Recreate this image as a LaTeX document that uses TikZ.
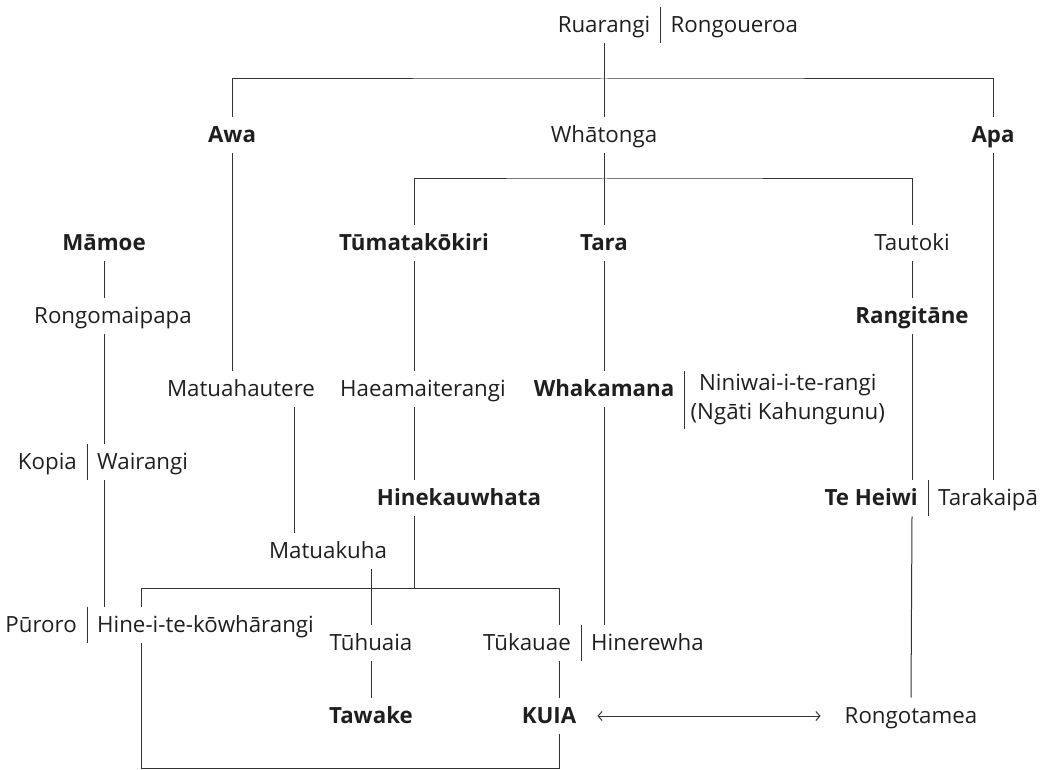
\documentclass[tikz,border=0pt]{standalone}
\usepackage{fontspec}
\setmainfont{Open Sans}
\usepackage{tikz}
\usetikzlibrary{positioning,arrows.meta}

\tikzset{
  name text/.style={font=\fontsize{22.3}{29}\selectfont, text=black!88},
  person/.style={name text, inner xsep=10pt, inner ysep=7.5pt, text height=18pt, text depth=3.5pt},
  chief/.style={person, font=\fontsize{22.3}{29}\selectfont\bfseries},
  link/.style={draw=black!80, line width=1pt},
}

\begin{document}
\begin{tikzpicture}[x=1pt, y=-1pt]
  \useasboundingbox (0,0) rectangle (1046,770);

  % top couple and children
  \node[person] (ruarangi) at (604,25) {Ruarangi};
  \node[person, right=0pt of ruarangi] (rongoueroa) {Rongoueroa};
  \node[chief] (awa) at (232,135) {Awa};
  \node[person] (whatonga) at (604,135) {Whātonga};
  \node[chief] (apa) at (993,135) {Apa};

  % children of Whatonga
  \node[chief] (tumata) at (414,243) {Tūmatakōkiri};
  \node[chief] (tara) at (604,243) {Tara};
  \node[person] (tautoki) at (912,243) {Tautoki};
  \node[chief] (rangitane) at (912,316) {Rangitāne};

  % left line
  \node[chief] (mamoe) at (104,243) {Māmoe};
  \node[person] (rongomai) at (113,316) {Rongomaipapa};
  \node[person, anchor=east] (kopia) at (87,462) {Kopia};
  \node[person, right=0pt of kopia] (wairangi) {Wairangi};
  \node[person, anchor=east] (puroro) at (87,625) {Pūroro};
  \node[person, right=0pt of puroro] (hine) {Hine-i-te-kōwhārangi};

  % middle generations
  \node[person] (matuahau) at (241,389) {Matuahautere};
  \node[person] (haeama) at (423,389) {Haeamaiterangi};
  \node[chief] (whakamana) at (604,389) {Whakamana};
  \node[name text, anchor=north west, align=center, inner xsep=6pt, inner ysep=0pt, minimum height=58pt] (niniwai) at (whakamana.north east) {Niniwai-i-te-rangi\\(Ngāti Kahungunu)};
  \node[chief] (hinekau) at (459,498) {Hinekauwhata};
  \node[chief, anchor=east] (teheiwi) at (928,498) {Te Heiwi};
  \node[person, right=0pt of teheiwi] (tarakaipa) {Tarakaipā};
  \node[person] (matuakuha) at (328,551) {Matuakuha};

  % bottom generations
  \node[person] (tuhuaia) at (371,643) {Tūhuaia};
  \node[person, anchor=east] (tukauae) at (581,643) {Tūkauae};
  \node[person, right=0pt of tukauae] (hinerewha) {Hinerewha};
  \node[chief] (tawake) at (371,716) {Tawake};
  \node[chief] (kuia) at (549,716) {KUIA};
  \node[person] (rongotamea) at (911,716) {Rongotamea};

  % dividers between partners
  \draw[link] (ruarangi.north east) -- (ruarangi.south east);
  \draw[link] (kopia.north east) -- (kopia.south east);
  \draw[link] (puroro.north east) -- (puroro.south east);
  \draw[link] (niniwai.north west) -- (niniwai.south west);
  \draw[link] (teheiwi.north east) -- (teheiwi.south east);
  \draw[link] (tukauae.north east) -- (tukauae.south east);

  % descent lines
  \coordinate (topbar) at (604,79);
  \coordinate (midbar) at (604,179);
  \coordinate (mh) at (294,0);
  \coordinate (boxtl) at (141,588);
  \coordinate (boxtr) at (559,588);
  \coordinate (boxbl) at (141,768);
  \coordinate (boxbr) at (559,768);

  \draw[link] (ruarangi.south) -- (whatonga.north);
  \draw[link] (awa.north) |- (topbar) -| (apa.north);
  \draw[link] (whatonga.south) -- (tara.north);
  \draw[link] (tumata.north) |- (midbar) -| (tautoki.north);
  \draw[link] (tautoki.south) -- (rangitane.north);
  \draw[link] (rangitane.south) -- (rangitane.south |- teheiwi.north);
  \draw[link] (rangitane |- teheiwi.south) -- (rongotamea.north);
  \draw[link] (apa.south) -- (apa.south |- tarakaipa.north);

  \draw[link] (mamoe.south) -- (mamoe.south |- rongomai.north);
  \draw[link] (mamoe |- rongomai.south) -- (mamoe |- wairangi.north);
  \draw[link] (mamoe |- wairangi.south) -- (mamoe |- hine.north);

  \draw[link] (awa.south) -- (awa.south |- matuahau.north);
  \draw[link] (mh |- matuahau.south) -- (mh |- matuakuha.north);
  \draw[link] (tumata.south) -- (tumata.south |- haeama.north);
  \draw[link] (tumata |- haeama.south) -- (tumata |- hinekau.north);
  \draw[link] (tumata |- hinekau.south) -- (tumata |- boxtl);
  \draw[link] (tara.south) -- (whakamana.north);
  \draw[link] (whakamana.south) -- (whakamana.south |- hinerewha.north);

  \draw[link] (tuhuaia |- matuakuha.south) -- (tuhuaia.north);
  \draw[link] (tuhuaia.south) -- (tawake.north);

  % the closed line round the bottom
  \draw[link] (boxtl |- hine.north) -- (boxtl) -- (boxtr) -- (boxtr |- tukauae.north);
  \draw[link] (boxtr |- tukauae.south) -- (boxtr |- kuia.north);
  \draw[link] (boxtr |- kuia.south) -- (boxbr) -- (boxbl) -- (boxbl |- hine.south);

  \draw[link, {Straight Barb[length=4pt,width=9pt]}-{Straight Barb[length=4pt,width=9pt]}, shorten <=11pt, shorten >=14pt] (kuia.east) -- (rongotamea.west);
\end{tikzpicture}
\end{document}
